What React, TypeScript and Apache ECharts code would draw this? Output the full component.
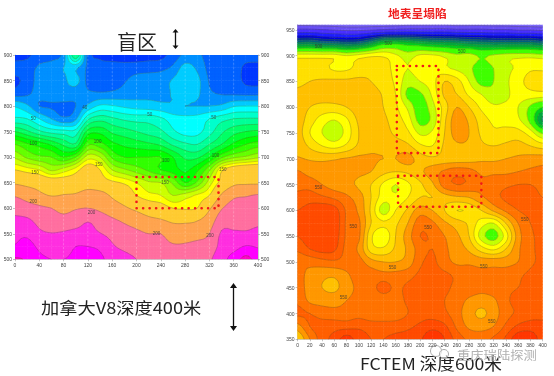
import React, { useEffect, useRef } from "react";
import * as echarts from "echarts";

const FONT = '"Noto Sans CJK SC", "Noto Sans", sans-serif';

// ---- left panel (V8) ----
const leftXs = [0,20,40,60,80,100,120,140,160,180,200,220,240,260,280,300,320,340,360,380,400];
const leftYs = [900,875,850,825,800,775,750,725,700,675,650,625,600,575,550,525,500];
const leftValues = [
 [6,8,14,15,24,70,16,8,6,5,5,6,7,14,22,22,16,14,14,14,14],
 [14,15,22,26,30,32,18,14,14,14,15,16,17,22,34,28,17,15,15,8,7],
 [8,14,24,26,28,34,17,14,15,19,24,25,26,31,37,33,19,16,15,8,7],
 [15,18,24,26,26,24,22,21,22,24,26,27,27,31,36,32,22,19,18,17,17],
 [39,32,20,19,18,20,32,42,41,38,36,35,33,31,30,30,30,32,39,40,40],
 [52,50,40,30,22,28,58,66,62,58,56,56,52,45,43,44,50,56,60,61,61],
 [80,72,62,56,54,54,84,87,78,74,70,66,62,52,46,47,56,68,76,80,82],
 [110,102,96,88,78,72,108,104,93,88,85,82,78,68,62,60,70,80,92,100,105],
 [128,118,112,110,100,110,135,130,108,100,100,100,100,90,78,78,90,108,118,122,128],
 [150,145,140,128,135,145,160,150,130,122,115,108,100,95,88,98,118,148,160,165,165],
 [172,168,166,162,160,160,165,158,153,148,140,132,130,118,100,112,135,155,170,172,172],
 [198,190,180,174,176,178,185,184,172,164,150,143,140,130,135,142,150,178,195,198,202],
 [215,210,205,200,192,198,200,195,185,178,170,162,158,150,148,150,172,198,210,214,215],
 [232,230,218,212,210,215,224,215,205,197,190,182,178,172,172,175,188,214,218,220,222],
 [245,245,230,226,228,232,232,226,218,210,205,200,200,188,186,188,200,228,228,228,230],
 [252,260,245,240,238,250,250,245,228,220,215,212,208,203,204,210,212,232,240,252,248],
 [278,272,255,250,250,255,262,255,240,232,225,220,215,212,212,215,222,240,262,282,265],
];
const leftLevels = [-100,10,20,30,40,50,60,70,80,90,100,110,120,130,140,150,175,200,225,250,275,500];
const leftColors = ["#0038ff","#0062ff","#0090ff","#00ccff","#00ffff","#00ffcc","#00ff99","#00ff66","#00ff33","#00ff00","#33ff00","#66ff00","#99ff00","#ccff00","#ffff00","#ffcc33","#ffa550","#ff70a0","#ff30e0","#ff00ff","#ff00c8"];
const leftLabels: [number, number, string][] = [
 [115,797,"40"],[30,775,"50"],[222,783,"50"],[327,778,"50"],[30,727,"100"],[136,731,"100"],[330,704,"100"],[248,693,"100"],
 [138,686,"150"],[342,676,"150"],[33,670,"150"],[247,651,"150"],[30,614,"200"],[126,592,"200"],[233,550,"200"],[321,547,"200"],
];
const leftRectX = [200,335,335,200,200];
const leftRectY = [661,661,600,600,661];
const leftGuides = [40,80,120,160,200,240,280,320,360];

// ---- right panel (FCTEM) ----
const rightXs = leftXs;
const rightYs = [975,950,925,900,875,850,825,800,775,750,725,700,675,650,625,600,575,550,525,500,475,450,425,400,375,350];
const rightValues = [
 [352,352,350,348,346,346,348,350,352,354,354,354,354,352,352,352,352,350,348,346,346],
 [398,398,396,394,392,392,394,396,398,400,400,400,400,398,398,398,396,396,394,394,392],
 [456,458,452,450,448,450,462,478,480,476,472,468,466,464,460,458,456,456,456,456,452],
 [515,515,515,515,510,514,518,518,512,505,512,512,508,503,505,498,502,505,506,506,504],
 [525,526,524,518,518,524,527,527,515,510,515,518,512,508,503,492,500,507,512,518,518],
 [528,530,531,532,532,532,530,526,518,505,510,516,530,524,510,496,500,508,516,524,526],
 [532,533,534,534,534,534,533,529,520,497,498,512,532,530,518,510,503,508,514,516,516],
 [534,530,527,527,530,535,534,530,522,508,494,506,525,540,530,518,512,512,510,498,485],
 [535,525,515,510,518,532,535,532,525,515,496,503,528,546,538,525,518,516,512,496,462],
 [535,520,510,503,514,530,536,534,528,522,508,512,530,545,540,528,522,524,524,515,498],
 [537,528,520,516,522,532,538,537,535,532,522,520,532,538,538,532,530,532,534,530,525],
 [541,539,538,539,541,542,541,540,540,544,535,532,534,535,536,538,538,540,542,544,545],
 [551,546,544,544,543,542,540,533,530,532,538,545,552,556,554,548,548,548,550,552,553],
 [558,556,550,545,543,538,530,518,510,518,528,538,555,560,558,552,555,558,560,560,558],
 [562,565,562,558,552,545,530,515,512,520,530,530,535,538,540,548,556,562,564,562,560],
 [570,575,578,575,558,548,528,505,520,532,545,540,530,520,522,530,542,552,560,562,562],
 [572,578,579,578,558,552,530,522,528,540,556,552,542,535,528,515,510,530,550,560,562],
 [570,576,578,576,558,552,522,512,530,545,560,558,550,542,530,505,495,515,545,558,562],
 [562,570,574,572,556,548,525,522,532,542,555,560,552,545,538,525,518,530,548,558,562],
 [552,553,556,558,556,554,544,540,540,544,558,562,554,548,548,546,546,546,550,558,562],
 [552,548,543,542,548,556,555,553,553,556,562,564,562,558,555,552,552,554,558,562,564],
 [556,545,540,538,545,553,556,564,558,562,565,566,562,558,556,553,555,558,560,563,566],
 [558,548,546,546,550,554,553,553,555,562,566,562,560,555,548,545,548,558,563,566,566],
 [562,560,556,554,554,556,552,551,553,560,566,566,562,554,544,538,545,556,562,566,568],
 [546,560,564,566,566,568,566,566,566,568,572,576,572,558,548,546,550,562,572,575,572],
 [530,550,565,574,585,575,570,570,572,574,578,590,580,566,558,556,562,572,588,588,575],
];
const rightLevels = [200,380,395,410,425,435,445,455,465,475,485,500,510,520,530,540,550,560,570,580,700];
const rightColors = ["#7c68f8","#6a50f4","#4a30ff","#2020ff","#0000e0","#0030a0","#006080","#008860","#00aa40","#00cc20","#40ff00","#c4ff00","#ffff00","#ffe000","#ffc000","#ff9800","#ff7400","#ff6000","#ff4c00","#ff3800"];
const rightLabels: [number, number, string][] = [
 [34,918,"500"],[148,924,"500"],[268,908,"500"],[34,645,"550"],[91,568,"550"],[213,566,"550"],[155,490,"550"],[304,492,"550"],[371,583,"550"],[75,431,"550"],[317,384,"550"],
];
const rightRect1X = [162,230,230,162,162];
const rightRect1Y = [880,880,711,711,880];
const rightRect2X = [164,300,300,164,164];
const rightRect2Y = [667,667,607,607,667];

// ---- tick settings ----
const leftYTicks = { min: 500, max: 900, interval: 50 };

const S = 4;
const cr = (a: number, b: number, c: number, d: number, t: number) =>
  0.5 * (2 * b + (c - a) * t + (2 * a - 5 * b + 4 * c - d) * t * t + (3 * b - a - 3 * c + d) * t * t * t);

function sample(g: number[][], fx: number, fy: number) {
  const ny = g.length, nx = g[0].length;
  const i = Math.min(Math.floor(fx), nx - 2), j = Math.min(Math.floor(fy), ny - 2);
  const tx = fx - i, ty = fy - j;
  const row = (r: number) => {
    const R = g[Math.max(0, Math.min(ny - 1, r))];
    const at = (c: number) => R[Math.max(0, Math.min(nx - 1, c))];
    return cr(at(i - 1), at(i), at(i + 1), at(i + 2), tx);
  };
  return cr(row(j - 1), row(j), row(j + 1), row(j + 2), ty);
}

type V = [number, number, number];
function clip(poly: V[], level: number, above: boolean): V[] {
  const out: V[] = [];
  for (let k = 0; k < poly.length; k++) {
    const a = poly[k], b = poly[(k + 1) % poly.length];
    const ia = above ? a[2] >= level : a[2] < level;
    const ib = above ? b[2] >= level : b[2] < level;
    if (ia) out.push(a);
    if (ia !== ib) {
      const t = (level - a[2]) / (b[2] - a[2]);
      out.push([a[0] + (b[0] - a[0]) * t, a[1] + (b[1] - a[1]) * t, level]);
    }
  }
  return out;
}

function cellSamples(g: number[][], xs: number[], ys: number[], api: any) {
  const x = api.value(0), y = api.value(1);
  const i = xs.indexOf(x), j = ys.indexOf(y);
  if (i < 0 || j < 0 || i >= xs.length - 1 || j >= ys.length - 1) return null;
  const p0 = api.coord([x, y]);
  const p1 = api.coord([xs[i + 1], ys[j + 1]]);
  const pts: V[][] = [];
  let min = Infinity, max = -Infinity;
  for (let b = 0; b <= S; b++) {
    const r: V[] = [];
    for (let a = 0; a <= S; a++) {
      const v = sample(g, i + a / S, j + b / S);
      min = Math.min(min, v);
      max = Math.max(max, v);
      r.push([p0[0] + (p1[0] - p0[0]) * a / S, p0[1] + (p1[1] - p0[1]) * b / S, v]);
    }
    pts.push(r);
  }
  return { pts, min, max };
}

const fmt = (n: number) => n.toFixed(2);

function bandRenderer(g: number[][], xs: number[], ys: number[], levels: number[], colors: string[]) {
  return (_p: any, api: any) => {
    const c = cellSamples(g, xs, ys, api);
    if (!c) return null;
    const children: any[] = [];
    for (let k = 0; k < colors.length; k++) {
      const lo = levels[k], hi = levels[k + 1];
      if (c.max < lo || c.min >= hi) continue;
      let d = "";
      for (let b = 0; b < S; b++) for (let a = 0; a < S; a++) {
        let poly: V[] = [c.pts[b][a], c.pts[b][a + 1], c.pts[b + 1][a + 1], c.pts[b + 1][a]];
        poly = clip(poly, lo, true);
        if (poly.length) poly = clip(poly, hi, false);
        if (poly.length > 2) d += "M" + poly.map((q) => fmt(q[0]) + " " + fmt(q[1])).join("L") + "Z";
      }
      if (d) children.push({ type: "path", shape: { pathData: d }, style: { fill: colors[k], stroke: colors[k], lineWidth: 0.5 } });
    }
    return { type: "group", children };
  };
}

function lineRenderer(g: number[][], xs: number[], ys: number[], levels: number[]) {
  return (_p: any, api: any) => {
    const c = cellSamples(g, xs, ys, api);
    if (!c) return null;
    let d = "";
    for (let k = 1; k < levels.length - 1; k++) {
      const L = levels[k];
      if (c.max < L || c.min >= L) continue;
      for (let b = 0; b < S; b++) for (let a = 0; a < S; a++) {
        const q = [c.pts[b][a], c.pts[b][a + 1], c.pts[b + 1][a + 1], c.pts[b + 1][a]];
        const cross: number[][] = [];
        for (let e = 0; e < 4; e++) {
          const A = q[e], B = q[(e + 1) % 4];
          if ((A[2] >= L) !== (B[2] >= L)) {
            const t = (L - A[2]) / (B[2] - A[2]);
            cross.push([A[0] + (B[0] - A[0]) * t, A[1] + (B[1] - A[1]) * t]);
          }
        }
        for (let e = 0; e + 1 < cross.length; e += 2) {
          d += "M" + fmt(cross[e][0]) + " " + fmt(cross[e][1]) + "L" + fmt(cross[e + 1][0]) + " " + fmt(cross[e + 1][1]);
        }
      }
    }
    if (!d) return null;
    return { type: "path", shape: { pathData: d }, style: { fill: "none", stroke: "rgba(80,80,30,0.55)", lineWidth: 0.5 } };
  };
}

function flat(g: number[][], xs: number[], ys: number[]) {
  const out: number[][] = [];
  ys.forEach((y, j) => xs.forEach((x, i) => out.push([x, y, g[j][i]])));
  return out;
}

function zip(a: number[], b: number[]) {
  return a.map((x, i) => [x, b[i]]);
}

const axisBase = {
  axisLine: { show: true, lineStyle: { color: "#aaa", width: 0.6 } },
  axisTick: { show: true, length: 2, lineStyle: { color: "#888", width: 0.5 } },
  axisLabel: { fontSize: 5, color: "#444", fontFamily: "Liberation Sans, sans-serif", margin: 3, hideOverlap: false },
  splitLine: { show: false },
};

function contourSeries(g: number[][], xs: number[], ys: number[], levels: number[], colors: string[], xi: number, yi: number) {
  const data = flat(g, xs, ys);
  const base = {
    type: "custom", coordinateSystem: "cartesian2d", xAxisIndex: xi, yAxisIndex: yi,
    encode: { x: 0, y: 1 }, data, clip: true, silent: true, progressive: 0,
  };
  return [
    { ...base, z: 2, renderItem: bandRenderer(g, xs, ys, levels, colors) },
    { ...base, z: 3, renderItem: lineRenderer(g, xs, ys, levels) },
  ];
}

function labelSeries(list: [number, number, string][], xi: number, yi: number) {
  return {
    type: "scatter", xAxisIndex: xi, yAxisIndex: yi, symbolSize: 0, z: 6, silent: true,
    data: list.map((l) => ({ value: [l[0], l[1]], name: l[2] })),
    label: { show: true, position: "inside", formatter: "{b}", fontSize: 4.5, color: "#333", fontFamily: "Liberation Sans, sans-serif" },
  };
}

function dotted(xs: number[], ys: number[], xi: number, yi: number) {
  return {
    type: "line", xAxisIndex: xi, yAxisIndex: yi, showSymbol: false, symbol: "none", z: 7, silent: true,
    data: zip(xs, ys),
    lineStyle: { color: "#f01818", width: 2.6, type: [0.1, 6.4], cap: "round" },
  };
}

function arrow(x: number, y0: number, y1: number, w: number, h: number) {
  return [
    { type: "line", shape: { x1: x, y1: y0 + 2, x2: x, y2: y1 - 2 }, style: { stroke: "#111", lineWidth: 1.3 } },
    { type: "polygon", shape: { points: [[x, y0], [x - w, y0 + h], [x + w, y0 + h]] }, style: { fill: "#111" } },
    { type: "polygon", shape: { points: [[x, y1], [x - w, y1 - h], [x + w, y1 - h]] }, style: { fill: "#111" } },
  ];
}

function text(t: string, x: number, y: number, size: number, fill: string, scaleX = 1, extra: any = {}) {
  return { type: "text", x, y, scaleX, style: { text: t, fontSize: size, fill, fontFamily: FONT, textVerticalAlign: "middle", ...extra } };
}

export default function App() {
  const ref = useRef<HTMLDivElement>(null);
  useEffect(() => {
    document.body.style.margin = "0";
    const chart = echarts.init(ref.current!, null, { renderer: "svg" });
    const guideSeries = {
      type: "custom", coordinateSystem: "cartesian2d", xAxisIndex: 0, yAxisIndex: 0, z: 5, silent: true,
      data: leftGuides.map((x) => [x, 900]), encode: { x: 0, y: 1 },
      renderItem: (_p: any, api: any) => {
        const a = api.coord([api.value(0), 900]);
        const b = api.coord([api.value(0), 500]);
        return { type: "line", shape: { x1: a[0], y1: a[1], x2: b[0], y2: b[1] }, style: { stroke: "rgba(255,255,255,0.3)", lineWidth: 0.6, lineDash: [2, 2] } };
      },
    };
    chart.setOption({
      animation: false,
      backgroundColor: "#ffffff",
      grid: [
        { left: 15, top: 55, width: 243, height: 204.3, show: false },
        { left: 297.6, top: 24.7, width: 245, height: 314.6, show: false },
      ],
      xAxis: [
        { ...axisBase, type: "value", gridIndex: 0, min: 0, max: 400, interval: 40 },
        { ...axisBase, type: "value", gridIndex: 1, min: 0, max: 400, interval: 20 },
      ],
      yAxis: [
        { ...axisBase, type: "value", gridIndex: 0, ...leftYTicks, position: "left" },
        { ...axisBase, type: "value", gridIndex: 0, ...leftYTicks, position: "right" },
        { ...axisBase, type: "value", gridIndex: 1, min: 350, max: 960, interval: 50, position: "left",
          axisLabel: { ...axisBase.axisLabel, showMaxLabel: false } },
      ],
      series: [
        ...contourSeries(leftValues, leftXs, leftYs, leftLevels, leftColors, 0, 0),
        guideSeries,
        labelSeries(leftLabels, 0, 0),
        dotted(leftRectX, leftRectY, 0, 0),
        ...contourSeries(rightValues, rightXs, rightYs, rightLevels, rightColors, 1, 2),
        labelSeries(rightLabels, 1, 2),
        dotted(rightRect1X, rightRect1Y, 1, 2),
        dotted(rightRect2X, rightRect2Y, 1, 2),
      ],
      graphic: [
        text("盲区", 117, 41, 20, "#222"),
        ...arrow(175.5, 29, 49, 3, 3.5),
        text("地表呈塌陷", 388, 13, 11.5, "#f02020", 1.02, { fontWeight: "bold" }),
        text("加拿大V8深度400米", 41, 307, 16, "#222", 1.14),
        ...arrow(233.5, 283, 331, 3.5, 5),
        text("FCTEM 深度600米", 360, 363, 16.5, "#222", 1.07),
        { type: "circle", shape: { cx: 436, cy: 351, r: 5.5 }, style: { fill: "rgba(255,255,255,0.6)", stroke: "#aaa", lineWidth: 1 } },
        { type: "circle", shape: { cx: 444, cy: 354, r: 4.5 }, style: { fill: "rgba(255,255,255,0.6)", stroke: "#aaa", lineWidth: 1 } },
        text("重庆瑞陆探测", 457, 355, 12, "#b0b0b0", 1.11),
      ],
    });
    return () => chart.dispose();
  }, []);
  return <div ref={ref} style={{ position: "absolute", left: 0, top: 0, width: 554, height: 376, filter: "blur(0.4px)" }} />;
}
